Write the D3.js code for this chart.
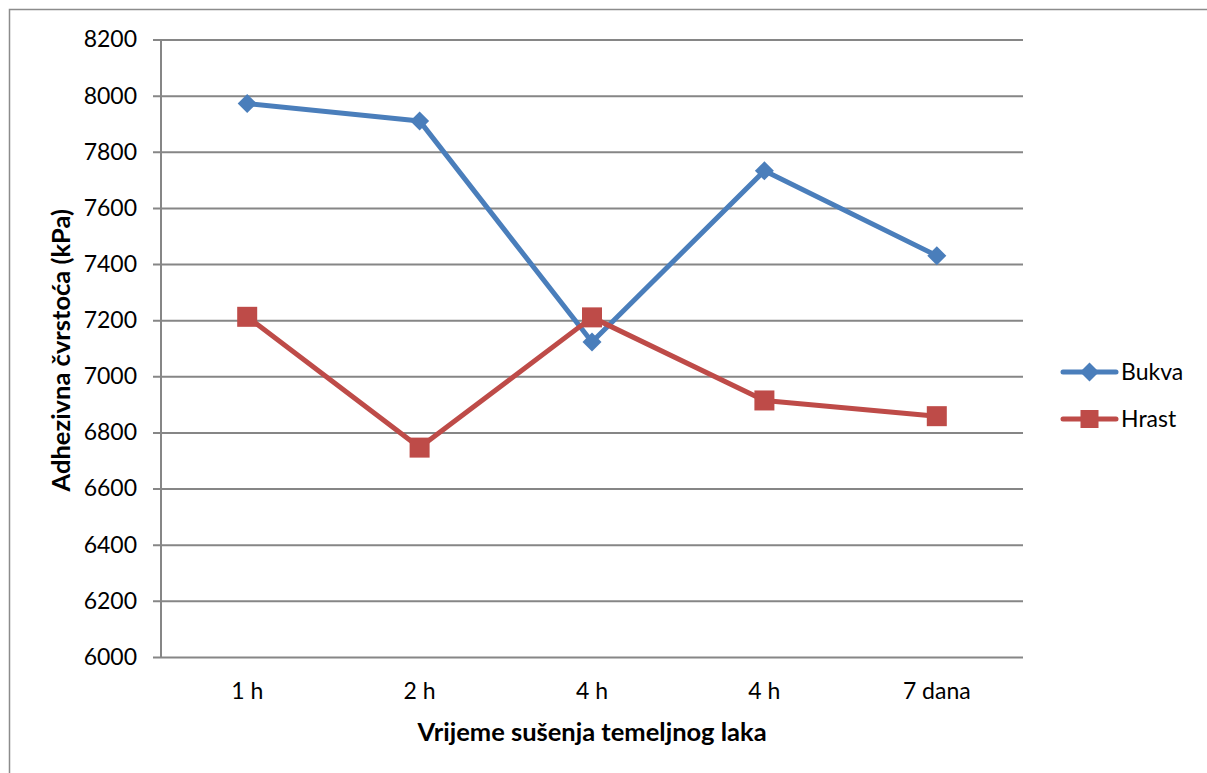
<!DOCTYPE html>
<html>
<head>
<meta charset="utf-8">
<script src="https://cdn.jsdelivr.net/npm/d3@7"></script>
<style>
  html, body { margin: 0; padding: 0; background: #fff; }
  svg { display: block; }
  text { font-family: Lato, "Open Sans", sans-serif; fill: #000; }
</style>
</head>
<body>
<svg id="chart" width="1207" height="773"></svg>
<script>
const categories = ["1 h", "2 h", "4 h", "4 h ", "7 dana"];
const categoryLabels = ["1 h", "2 h", "4 h", "4 h", "7 dana"];
const bukva = [7972, 7910, 7122, 7732, 7430];
const hrast = [7212, 6746, 7210, 6914, 6858];
const yTicks = [6000, 6200, 6400, 6600, 6800, 7000, 7200, 7400, 7600, 7800, 8000, 8200];
const seriesNames = ["Bukva", "Hrast"];
const seriesColors = ["#4a7ebb", "#be4b48"];

const svg = d3.select("#chart");
const W = 1207, H = 773;
const plot = { left: 161, right: 1023, top: 39.5, bottom: 657 };

// outer border
svg.append("rect")
  .attr("x", 9.5).attr("y", 9.5)
  .attr("width", W + 20).attr("height", H + 20)
  .attr("fill", "#fff").attr("stroke", "#8c8c8c").attr("stroke-width", 1.5);

const x = d3.scaleBand().domain(categories).range([plot.left, plot.right]).padding(0);
const y = d3.scaleLinear().domain([6000, 8200]).range([plot.bottom, plot.top]);

// gridlines + y axis
const yAxis = d3.axisLeft(y).tickValues(yTicks).tickSize(-(plot.right - plot.left)).tickPadding(24).tickFormat(d3.format("d"));
const gy = svg.append("g").attr("transform", `translate(${plot.left},0)`).call(yAxis);
gy.select(".domain").remove();
gy.selectAll(".tick line")
  .attr("x1", -8)
  .attr("stroke", "#868686").attr("stroke-width", 2);
gy.selectAll(".tick text")
  .attr("font-size", 23).attr("font-family", "Lato, 'Open Sans', sans-serif").attr("fill", "#000");

// vertical axis line
svg.append("line")
  .attr("x1", plot.left).attr("x2", plot.left)
  .attr("y1", plot.top).attr("y2", plot.bottom)
  .attr("stroke", "#868686").attr("stroke-width", 2);

// x axis labels
const xAxis = d3.axisBottom(x).tickSize(0).tickPadding(26).tickFormat((d, i) => categoryLabels[i]);
const gx = svg.append("g").attr("transform", `translate(0,${plot.bottom})`).call(xAxis);
gx.select(".domain").remove();
gx.selectAll(".tick text")
  .attr("font-size", 23).attr("font-family", "Lato, 'Open Sans', sans-serif").attr("fill", "#000");

// axis titles
svg.append("text")
  .attr("x", (plot.left + plot.right) / 2).attr("y", 741)
  .attr("text-anchor", "middle")
  .attr("font-size", 25.5).attr("font-weight", "bold")
  .text("Vrijeme sušenja temeljnog laka");

svg.append("text")
  .attr("transform", `translate(70,${(plot.top + plot.bottom) / 2 + 2}) rotate(-90)`)
  .attr("text-anchor", "middle")
  .attr("font-size", 25.5).attr("font-weight", "bold")
  .text("Adhezivna čvrstoća (kPa)");

const cx = (d, i) => x(categories[i]) + x.bandwidth() / 2;
const line = d3.line().x((d, i) => cx(d, i)).y(d => y(d));

function drawDiamond(g, px, py, color) {
  const r = 9.5;
  g.append("path")
    .attr("d", `M${px},${py - r}L${px + r},${py}L${px},${py + r}L${px - r},${py}Z`)
    .attr("fill", color);
}
function drawSquare(g, px, py, color, s) {
  g.append("rect")
    .attr("x", px - s / 2).attr("y", py - s / 2)
    .attr("width", s).attr("height", s)
    .attr("fill", color);
}

// Bukva
const gB = svg.append("g");
gB.append("path").datum(bukva).attr("d", line)
  .attr("fill", "none").attr("stroke", seriesColors[0]).attr("stroke-width", 5).attr("stroke-linejoin", "round");
bukva.forEach((v, i) => drawDiamond(gB, cx(v, i), y(v), seriesColors[0]));

// Hrast
const gH = svg.append("g");
gH.append("path").datum(hrast).attr("d", line)
  .attr("fill", "none").attr("stroke", seriesColors[1]).attr("stroke-width", 5).attr("stroke-linejoin", "round");
hrast.forEach((v, i) => drawSquare(gH, cx(v, i), y(v), seriesColors[1], 20));

// legend
const legendY = [372, 419];
seriesNames.forEach((name, i) => {
  const g = svg.append("g");
  g.append("line")
    .attr("x1", 1063).attr("x2", 1116)
    .attr("y1", legendY[i]).attr("y2", legendY[i])
    .attr("stroke", seriesColors[i]).attr("stroke-width", 5).attr("stroke-linecap", "round");
  if (i === 0) drawDiamond(g, 1089.5, legendY[i], seriesColors[i]);
  else drawSquare(g, 1089.5, legendY[i], seriesColors[i], 18);
  g.append("text")
    .attr("x", 1121).attr("y", legendY[i] + 8)
    .attr("font-size", 23)
    .text(name);
});
</script>
</body>
</html>
